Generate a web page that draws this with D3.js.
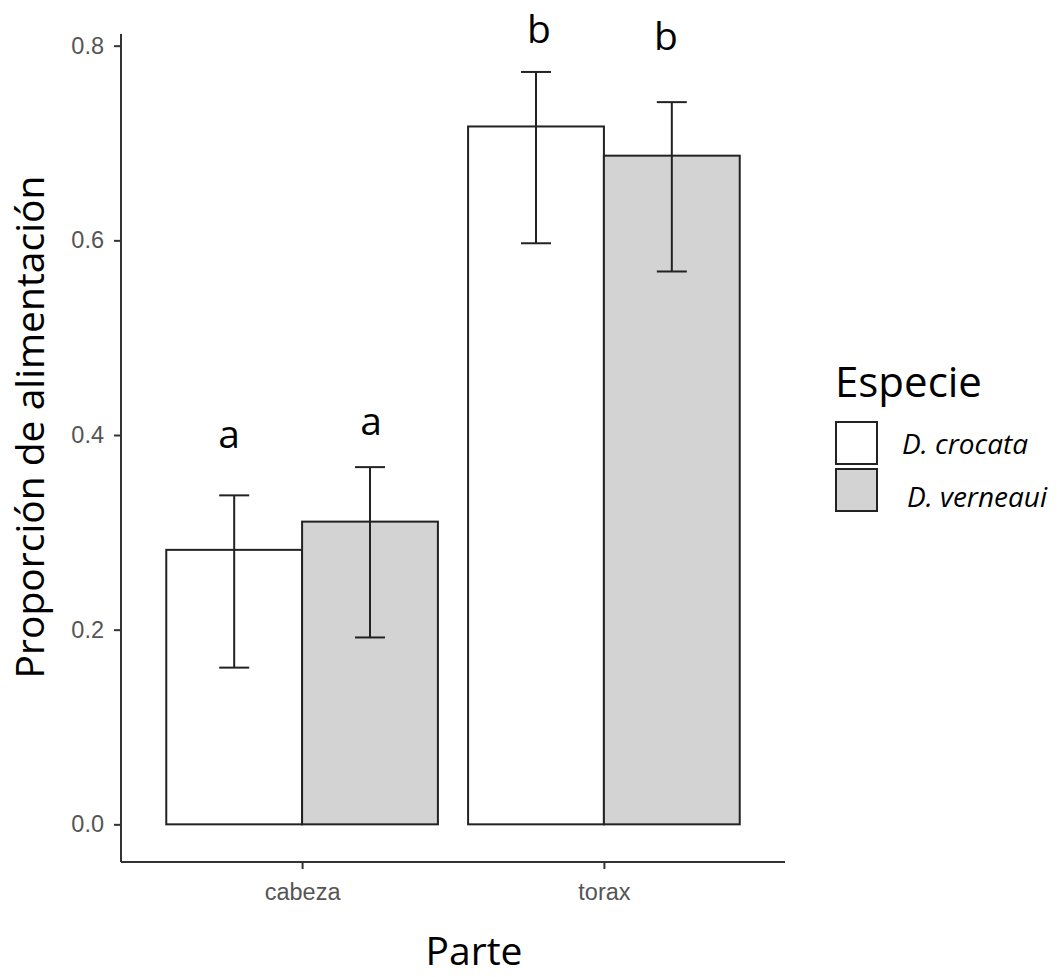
<!DOCTYPE html>
<html>
<head>
<meta charset="utf-8">
<script src="https://cdn.jsdelivr.net/npm/d3@7"></script>
<style>
  html, body { margin: 0; padding: 0; background: #fff; }
  svg { display: block; }
</style>
</head>
<body>
<svg id="chart" width="1061" height="977"></svg>
<script>
// Feeding proportion by body part and species
const partes = ["cabeza", "torax"];
const especies = ["D. crocata", "D. verneaui"];
const media = [[0.282, 0.311], [0.717, 0.687]];
const errInf = [[0.161, 0.192], [0.597, 0.568]];
const errSup = [[0.338, 0.367], [0.773, 0.742]];
const letras = [["a", "a"], ["b", "b"]];
const letraY = [[0.387, 0.400], [0.803, 0.796]];
const yTicks = [0.0, 0.2, 0.4, 0.6, 0.8];
const relleno = ["#ffffff", "#d3d3d3"];

const svg = d3.select("#chart");
const mLeft = 121, mRight = 785, mTop = 34, mBottom = 862;
const letraDx = [[-5, 1], [3, -6]];

const x = d3.scalePoint().domain(partes).range([mLeft, mRight]).padding(0.6);
const step = x.step();
const groupW = step * 0.9;
const xs = d3.scaleBand().domain(especies).range([-groupW / 2, groupW / 2]).padding(0);
const y = d3.scaleLinear().domain([-0.0387, 0.812]).range([mBottom, mTop]);

const rows = [];
partes.forEach((p, i) => especies.forEach((e, j) => rows.push({
  p, e, j, v: media[i][j], lo: errInf[i][j], hi: errSup[i][j],
  l: letras[i][j], ly: letraY[i][j], dx: letraDx[i][j]
})));

// bars
svg.append("g").selectAll("rect").data(rows).join("rect")
  .attr("x", d => x(d.p) + xs(d.e))
  .attr("y", d => y(d.v))
  .attr("width", xs.bandwidth())
  .attr("height", d => y(0) - y(d.v))
  .attr("fill", d => relleno[d.j])
  .attr("stroke", "#222")
  .attr("stroke-width", 2);

// error bars
const eb = svg.append("g").attr("stroke", "#222").attr("stroke-width", 2).attr("fill", "none");
const cap = 15;
rows.forEach(d => {
  const cx = x(d.p) + xs(d.e) + xs.bandwidth() / 2;
  eb.append("line").attr("x1", cx).attr("x2", cx).attr("y1", y(d.lo)).attr("y2", y(d.hi));
  eb.append("line").attr("x1", cx - cap).attr("x2", cx + cap).attr("y1", y(d.lo)).attr("y2", y(d.lo));
  eb.append("line").attr("x1", cx - cap).attr("x2", cx + cap).attr("y1", y(d.hi)).attr("y2", y(d.hi));
});

// significance letters
svg.append("g").selectAll("text").data(rows).join("text")
  .attr("x", d => x(d.p) + xs(d.e) + xs.bandwidth() / 2 + d.dx)
  .attr("y", d => y(d.ly))
  .attr("text-anchor", "middle")
  .attr("font-family", "'Open Sans', 'Noto Sans', sans-serif")
  .attr("font-size", 39)
  .attr("fill", "#000")
  .text(d => d.l);

// y axis
const yAxis = svg.append("g").attr("transform", `translate(${mLeft},0)`)
  .call(d3.axisLeft(y).tickValues(yTicks).tickFormat(d3.format(".1f")).tickSize(7).tickPadding(10));
yAxis.select(".domain").attr("d", `M0,${mTop}V${mBottom}`).attr("stroke", "#333").attr("stroke-width", 2);
yAxis.selectAll(".tick line").attr("stroke", "#333").attr("stroke-width", 2);
yAxis.selectAll(".tick text").attr("fill", "#555").attr("font-size", 23.5)
  .attr("font-family", "'Liberation Sans', Arial, sans-serif");

// x axis
const xAxis = svg.append("g").attr("transform", `translate(0,${mBottom})`)
  .call(d3.axisBottom(x).tickSize(7).tickPadding(14));
xAxis.select(".domain").attr("d", `M${mLeft},0H${mRight}`).attr("stroke", "#333").attr("stroke-width", 2);
xAxis.selectAll(".tick line").attr("stroke", "#333").attr("stroke-width", 2);
xAxis.selectAll(".tick text").attr("fill", "#555").attr("font-size", 23.5)
  .attr("font-family", "'Liberation Sans', Arial, sans-serif");

// axis titles
svg.append("text")
  .attr("transform", "translate(44,427) rotate(-90)")
  .attr("text-anchor", "middle")
  .attr("font-family", "'Open Sans', 'Noto Sans', sans-serif")
  .attr("font-size", 39)
  .attr("fill", "#000")
  .text("Proporción de alimentación");

svg.append("text")
  .attr("x", 474).attr("y", 965)
  .attr("text-anchor", "middle")
  .attr("font-family", "'Open Sans', 'Noto Sans', sans-serif")
  .attr("font-size", 39)
  .attr("fill", "#000")
  .text("Parte");

// legend
const lg = svg.append("g");
lg.append("text").attr("x", 835).attr("y", 397)
  .attr("font-family", "'Open Sans', 'Noto Sans', sans-serif")
  .attr("font-size", 42).attr("fill", "#000").text("Especie");
const keyY = [422, 469];
const labX = [902, 907];
const labY = [454, 507];
especies.forEach((e, j) => {
  lg.append("rect").attr("x", 836).attr("y", keyY[j]).attr("width", 41).attr("height", 42)
    .attr("fill", relleno[j]).attr("stroke", "#222").attr("stroke-width", 2);
  lg.append("text").attr("x", labX[j]).attr("y", labY[j])
    .attr("font-family", "'Open Sans', 'Noto Sans', sans-serif")
    .attr("font-style", "italic").attr("font-size", 28).attr("fill", "#000").text(e);
});
</script>
</body>
</html>
